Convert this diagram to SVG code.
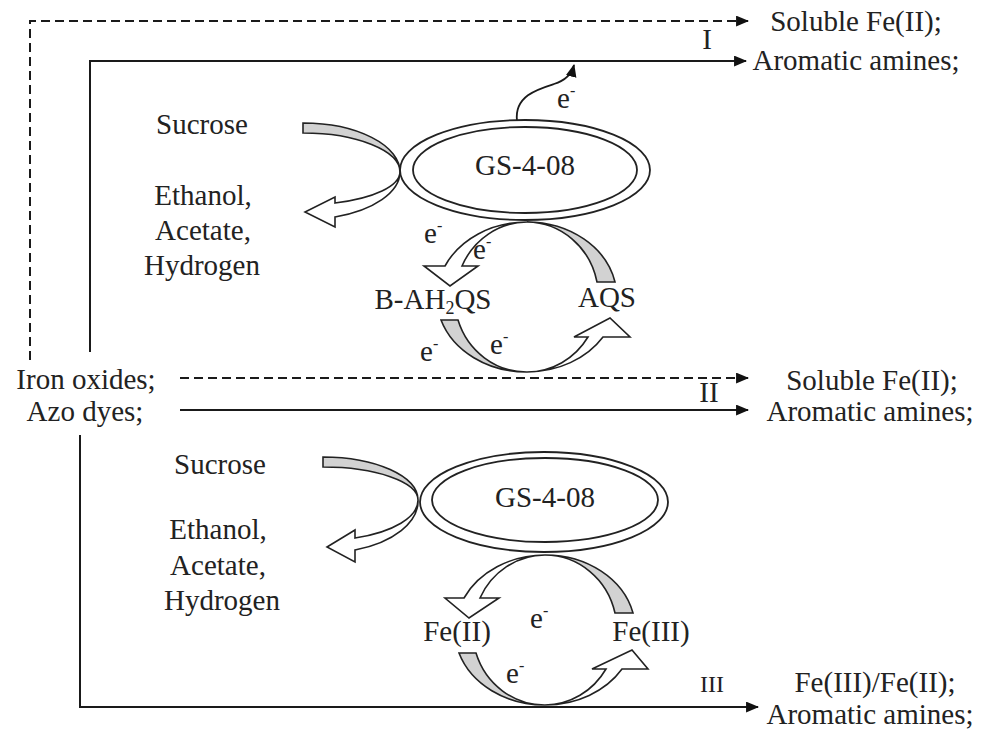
<svg xmlns="http://www.w3.org/2000/svg" width="983" height="729" viewBox="0 0 983 729">
  <defs>
    <style>
      text { font-family: "Liberation Serif", "Times New Roman", serif; font-size: 29px; fill: #222; }
      .mid { text-anchor: middle; }
      .sup { font-size: 16px; }
      .sub { font-size: 18px; }
      .line { fill: none; stroke: #1a1a1a; stroke-width: 2; }
      .dash { stroke-dasharray: 9 5; }
      .ring { fill: none; stroke: #222; stroke-width: 1.8; }
      .band-g { fill: #d2d2d2; stroke: #222; stroke-width: 1.6; stroke-linejoin: miter; }
      .band-w { fill: #ffffff; stroke: #222; stroke-width: 1.6; stroke-linejoin: miter; }
    </style>
    <marker id="head" viewBox="0 0 12 10" refX="11" refY="5" markerWidth="13" markerHeight="11" markerUnits="userSpaceOnUse" orient="auto">
      <path d="M0,0 L12,5 L0,10 Z" fill="#111" stroke="none"/>
    </marker>
  </defs>
  <rect width="983" height="729" fill="#ffffff"/>

  <!-- pathway connectors -->
  <g id="connectors">
    <!-- route I -->
    <path class="line dash" d="M30,360 L30,21 L748,21" marker-end="url(#head)"/>
    <path class="line" d="M90,352 L90,61 L746,61" marker-end="url(#head)"/>
    <!-- route II -->
    <path class="line dash" d="M180,378 L748,378" marker-end="url(#head)"/>
    <path class="line" d="M180,410 L748,410" marker-end="url(#head)"/>
    <!-- route III -->
    <path class="line" d="M80,435 L80,707 L758,707" marker-end="url(#head)"/>
    <!-- electron transfer from upper cell to the solid route -->
    <path class="line" d="M517,121 C514,96 538,89 554,84 C567,80 572,73 574,65" marker-end="url(#head)" style="stroke-width:1.8"/>
  </g>

  <!-- route labels -->
  <g id="route-labels">
    <text x="707" y="49" class="mid">I</text>
    <text x="709" y="402" class="mid">II</text>
    <text x="712" y="692" class="mid" style="font-size:24px">III</text>
  </g>

  <!-- substrates -->
  <g id="substrates">
    <text x="86" y="389" class="mid">Iron oxides;</text>
    <text x="85" y="421" class="mid">Azo dyes;</text>
  </g>

  <!-- products of each route -->
  <g id="products-I">
    <text x="856" y="31" class="mid">Soluble Fe(II);</text>
    <text x="856" y="70" class="mid">Aromatic amines;</text>
  </g>
  <g id="products-II">
    <text x="872" y="390" class="mid">Soluble Fe(II);</text>
    <text x="870" y="421" class="mid">Aromatic amines;</text>
  </g>
  <g id="products-III">
    <text x="875" y="692" class="mid">Fe(III)/Fe(II);</text>
    <text x="870" y="724" class="mid">Aromatic amines;</text>
  </g>

  <!-- upper cell: sucrose fermentation -->
  <g id="fermentation-upper">
    <text x="202" y="134" class="mid">Sucrose</text>
    <text x="203" y="205" class="mid">Ethanol,</text>
    <text x="203" y="240" class="mid">Acetate,</text>
    <text x="202" y="275" class="mid">Hydrogen</text>
    <path class="band-g" d="M303,123 A97,49 0 0 1 400,172 A97,39 0 0 0 303,133 Z"/>
    <path class="band-w" d="M400,172 A97,48 0 0 1 335,217 L335,227 L305,212 L335,197 L335,203 A97,33 0 0 0 400,172 Z"/>
  </g>

  <!-- upper cell -->
  <g id="cell-upper">
    <ellipse class="ring" cx="525" cy="170" rx="125" ry="50"/>
    <ellipse class="ring" cx="525" cy="170" rx="112" ry="43"/>
    <text x="525" y="175" class="mid">GS-4-08</text>
    <text x="557" y="108">e<tspan class="sup" dy="-12">-</tspan></text>
  </g>

  <!-- upper quinone shuttle cycle -->
  <g id="shuttle-cycle">
    <path class="band-g" d="M615,282 A90,75 0 0 0 527,222 A72,75 0 0 1 597,282 Z"/>
    <path class="band-w" d="M527,222 A90,75 0 0 0 445,266 L424,266 L450,286 L478,266 L462,266 A72,75 0 0 1 527,222 Z"/>
    <path class="band-g" d="M441,320 A90,75 0 0 0 527,372 A72,75 0 0 1 458,320 Z"/>
    <path class="band-w" d="M527,372 A90,75 0 0 0 603,337 L630,337 L610,318 L574,337 L588,337 A72,75 0 0 1 527,372 Z"/>
    <text x="424" y="243">e<tspan class="sup" dy="-12">-</tspan></text>
    <text x="473" y="259">e<tspan class="sup" dy="-12">-</tspan></text>
    <text x="433" y="309" class="mid">B-AH<tspan class="sub" dy="5">2</tspan><tspan dy="-5">QS</tspan></text>
    <text x="607" y="307" class="mid">AQS</text>
    <text x="420" y="361">e<tspan class="sup" dy="-12">-</tspan></text>
    <text x="490" y="354">e<tspan class="sup" dy="-12">-</tspan></text>
  </g>

  <!-- lower cell: sucrose fermentation -->
  <g id="fermentation-lower">
    <text x="220" y="474" class="mid">Sucrose</text>
    <text x="218" y="539" class="mid">Ethanol,</text>
    <text x="218" y="575" class="mid">Acetate,</text>
    <text x="222" y="610" class="mid">Hydrogen</text>
    <path class="band-g" d="M323,457 A95,43 0 0 1 418,500 A95,33 0 0 0 323,467 Z"/>
    <path class="band-w" d="M418,500 A95,52 0 0 1 355,550 L355,562 L327,547 L355,530 L355,538 A95,40 0 0 0 418,500 Z"/>
  </g>

  <!-- lower cell -->
  <g id="cell-lower">
    <ellipse class="ring" cx="544" cy="502" rx="124" ry="50"/>
    <ellipse class="ring" cx="545" cy="500" rx="113" ry="42"/>
    <text x="545" y="507" class="mid">GS-4-08</text>
  </g>

  <!-- lower iron cycle -->
  <g id="iron-cycle">
    <path class="band-g" d="M633,613 A90,75 0 0 0 545,555 A72,75 0 0 1 615,613 Z"/>
    <path class="band-w" d="M545,555 A90,75 0 0 0 464,598 L445,598 L469,618 L499,598 L480,598 A72,75 0 0 1 545,555 Z"/>
    <path class="band-g" d="M459,653 A90,75 0 0 0 545,705 A72,75 0 0 1 476,653 Z"/>
    <path class="band-w" d="M545,705 A90,75 0 0 0 622,669 L648,669 L632,650 L592,669 L606,669 A72,75 0 0 1 545,705 Z"/>
    <text x="457" y="641" class="mid">Fe(II)</text>
    <text x="651" y="641" class="mid">Fe(III)</text>
    <text x="530" y="628">e<tspan class="sup" dy="-12">-</tspan></text>
    <text x="506" y="683">e<tspan class="sup" dy="-12">-</tspan></text>
  </g>
</svg>
